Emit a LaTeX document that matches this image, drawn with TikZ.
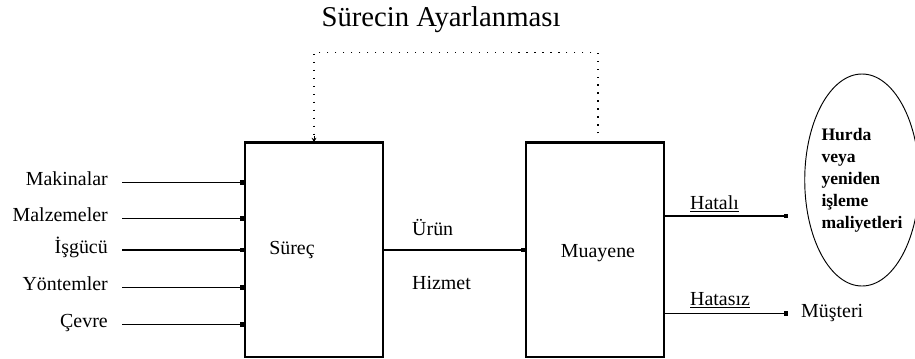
\documentclass[tikz,border=0pt]{standalone}
\usepackage{fontspec}
\setmainfont{Liberation Serif}
\usetikzlibrary{arrows.meta,positioning,shapes.geometric}

\begin{document}
\begin{tikzpicture}[x=0.03cm,y=-0.03cm,>={Square[length=3.5pt,width=4pt]},font=\fontsize{17}{19}\selectfont,
  box/.style={draw,line width=0.9pt,minimum width=4.14cm,minimum height=6.42cm,inner sep=0pt},
  inlabel/.style={anchor=east,inner sep=0pt,text height=1.6ex,text depth=0.3ex},
  outlabel/.style={anchor=west,inner sep=0pt},
  inarrow/.style={->,line width=0.7pt},
  feedback/.style={dash pattern=on 1pt off 5.8pt,line width=1pt}]
  \useasboundingbox (0,0) rectangle (915,358);

  % the two blocks
  \node[box] (surec) at (314,250) {};
  \node[box] (muayene) at (595,250) {};
  \draw[line width=2pt] (surec.north west) -- (surec.north east);
  \draw[line width=2pt] (muayene.north west) -- (muayene.north east);
  \node at (292,250) {Süreç};
  \node at (598,253) {Muayene};

  % inputs of the process
  \foreach \y/\name/\txt/\w in {182/mak/Makinalar/0.7pt, 218/malz/Malzemeler/0.7pt,
      250/isg/İşgücü/1.6pt, 287/yont/Yöntemler/0.7pt, 324/cevre/Çevre/0.7pt} {
    \node[inlabel] (\name) at (108,\y) {\txt};
    \draw[inarrow,line width=\w] (\name.east) ++(14,0) -- (surec.west |- \name.east);
  }

  % product / service
  \draw[->,line width=1.6pt] (surec.east) -- (muayene.west);
  \node[outlabel] (urun) at (412,228) {Ürün};
  \node[outlabel] (hizmet) at (412,283) {Hizmet};

  % outputs of the inspection
  \node[draw,ellipse,line width=0.8pt,minimum width=3.18cm,minimum height=6.36cm,inner sep=0pt,
    align=left,font=\bfseries\fontsize{15}{18.7}\selectfont] (hurda) at (862,180)
    {Hurda\\veya\\yeniden\\işleme\\maliyetleri};
  \coordinate (hatali-end) at (788,216);
  \draw[->,line width=1.6pt] (muayene.east |- hatali-end) -- (hatali-end);
  \node[outlabel] (hatali) at (690,204) {\underline{Hatalı}};

  \node[outlabel] (musteri) at (801,313) {Müşteri};
  \coordinate (hatasiz-end) at (788,313);
  \draw[inarrow] (muayene.east |- hatasiz-end) -- (hatasiz-end);
  \node[outlabel] (hatasiz) at (690,300) {\underline{Hatasız}};

  % adjustment loop
  \node[font=\fontsize{24.5}{26}\selectfont] (ayar) at (441,20) {Sürecin Ayarlanması};
  \draw[feedback] ([xshift=0.09cm,yshift=0.27cm]muayene.north) -- ++(0,-81) -| (surec.north);
  \draw[-{Stealth[length=4pt,width=4pt]},line width=0.8pt] ([yshift=0.2cm]surec.north) -- (surec.north);
\end{tikzpicture}
\end{document}
